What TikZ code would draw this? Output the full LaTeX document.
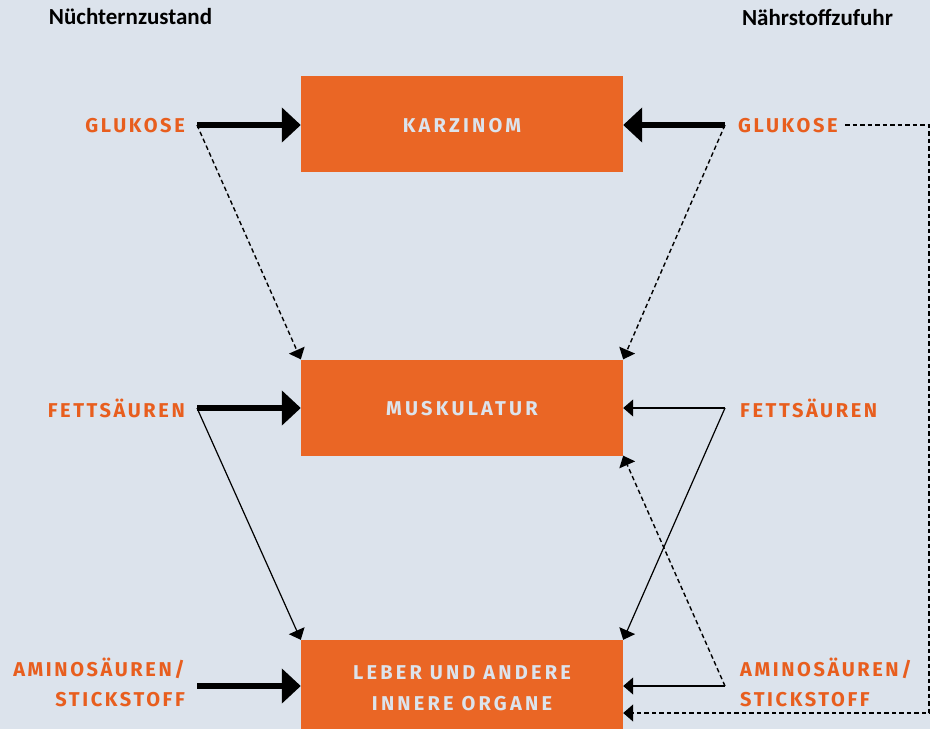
\documentclass[tikz,border=0pt]{standalone}
\usepackage{fontspec}
\setmainfont{Fira Sans}
\newfontfamily\labfont[LetterSpace=13]{Fira Sans}
\newfontfamily\boxfont[LetterSpace=16]{Fira Sans}
\newfontfamily\titlefont{Carlito}
\usetikzlibrary{arrows.meta}
\definecolor{bg}{HTML}{DCE3EC}
\definecolor{org}{HTML}{EA6625}
\definecolor{orgtxt}{HTML}{E85E1E}
\begin{document}
\begin{tikzpicture}[x=1pt,y=-1pt,
 box/.style={fill=org, draw=none, minimum width=322pt, inner sep=0pt, text=bg,
   font=\boxfont\bfseries\fontsize{20}{31}\selectfont, align=center},
 boxtext/.style={box, fill=none, minimum height=0pt},
 lbl/.style={text=orgtxt, font=\labfont\bfseries\fontsize{20}{30}\selectfont, inner sep=0pt},
 ttl/.style={font=\titlefont\bfseries\fontsize{23}{26}\selectfont, inner sep=0pt},
 thickarrow/.style={line width=6pt, -{Triangle[length=19pt,width=34pt]}},
 thinarrow/.style={line width=1.2pt, -{Triangle[length=10pt,width=17pt]}},
 dasharrow/.style={thinarrow, line width=1.4pt, dash pattern=on 4.5pt off 3pt},
]
\fill[bg] (0,0) rectangle (930,729);
\useasboundingbox (0,0) rectangle (930,729);

% titles
\node[ttl] (t1) at (130.5,17) {Nüchternzustand};
\node[ttl] (t2) at (817.5,17) {Nährstoffzufuhr};

% boxes
\node[box, minimum height=96pt] (kar) at (462,124) {};
\node[box, minimum height=96pt] (mus) at (462,407.5) {};
\node[box, minimum height=89pt] (leb) at (462,684.5) {};
\node[boxtext] (karT) at (462,126) {KARZINOM};
\node[boxtext] (musT) at (462,408.5) {MUSKULATUR};
\node[boxtext] (lebT) at (462,688) {LEBER UND ANDERE\\INNERE ORGANE};

% left labels
\node[lbl, anchor=east] (lgl) at (185,126) {GLUKOSE};
\node[lbl, anchor=east] (lfe) at (185,408) {FETTSÄUREN};
\node[lbl, anchor=east, align=right] (lam) at (185,682) {AMINOSÄUREN/\\STICKSTOFF};

% right labels
\node[lbl, anchor=west] (rgl) at (738,126) {GLUKOSE};
\node[lbl, anchor=west] (rfe) at (740,408) {FETTSÄUREN};
\node[lbl, anchor=west, align=left] (ram) at (740,682) {AMINOSÄUREN/\\STICKSTOFF};

% junctions
\coordinate (lj1) at (197,125);
\coordinate (lj2) at (197,408);
\coordinate (lj3) at (197,686);
\coordinate (rj1) at (725,125);
\coordinate (rj2) at (725,408);
\coordinate (rj3) at (725,686);
\coordinate (rg0) at (845,125);
\coordinate (c1) at (929,125);
\coordinate (c2) at (929,713);

% left connectors
\draw[thickarrow] (lj1) -- (kar.west |- lj1);
\draw[dasharrow] (lj1) -- (mus.north west);
\draw[thickarrow] (lj2) -- (mus.west |- lj2);
\draw[thinarrow] (lj2) -- (leb.north west);
\draw[thickarrow] (lj3) -- (leb.west |- lj3);

% right connectors
\draw[thickarrow] (rj1) -- (kar.east |- rj1);
\draw[dasharrow] (rj1) -- (mus.north east);
\draw[thinarrow] (rj2) -- (mus.east |- rj2);
\draw[thinarrow] (rj2) -- (leb.north east);
\draw[thinarrow] (rj3) -- (leb.east |- rj3);
\draw[dasharrow] (rj3) -- (mus.south east);
\draw[dasharrow] (rg0) -- (c1) -- (c2) -- (leb.east |- c2);
\end{tikzpicture}
\end{document}
